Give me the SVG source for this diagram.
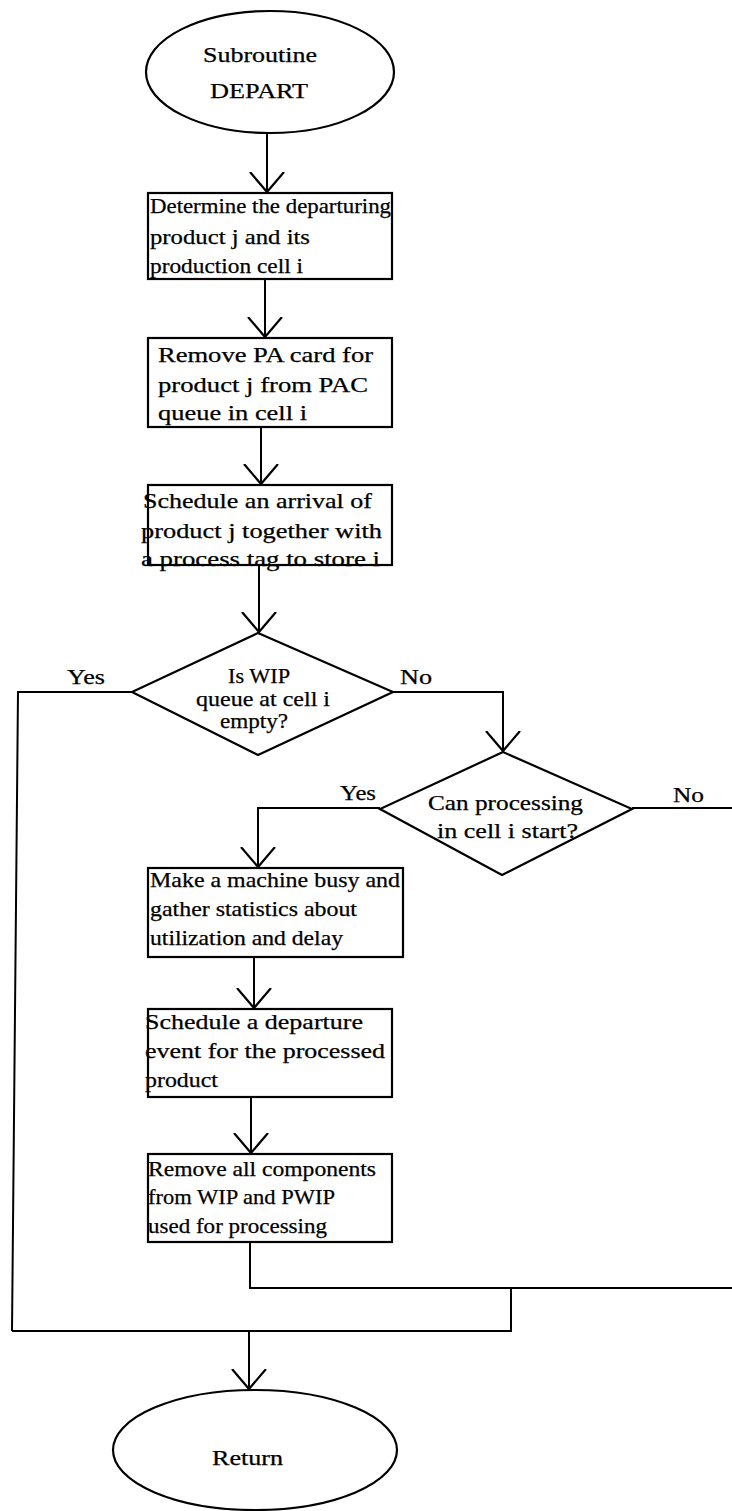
<svg xmlns="http://www.w3.org/2000/svg" width="732" height="1511" viewBox="0 0 732 1511">
  <defs>
    <marker id="arr" viewBox="-20 -20 40 40" markerWidth="40" markerHeight="40" refX="0" refY="0" orient="auto" markerUnits="userSpaceOnUse">
      <path d="M-20,-17 L0,0 L-20,17" fill="none" stroke="#000" stroke-width="2.2"/>
    </marker>
    <style>
      .shape { fill: #fff; stroke: #000; stroke-width: 2.2; }
      .line { fill: none; stroke: #000; stroke-width: 2; }
      text { font-family: "Liberation Serif", "Times New Roman", serif; font-size: 21px; fill: #000; stroke: #000; stroke-width: 0.25; }
    </style>
  </defs>

  <g id="connectors">
    <path class="line" d="M267,134 V192" marker-end="url(#arr)"/>
    <path class="line" d="M265,280 V337" marker-end="url(#arr)"/>
    <path class="line" d="M261,428 V484" marker-end="url(#arr)"/>
    <path class="line" d="M259,566 V632" marker-end="url(#arr)"/>
    <path class="line" d="M393,692 H503 V751" marker-end="url(#arr)"/>
    <path class="line" d="M132,692 H18 L12,1331"/>
    <path class="line" d="M380,808 H258 V867" marker-end="url(#arr)"/>
    <path class="line" d="M632,808 H732"/>
    <path class="line" d="M254,958 V1008" marker-end="url(#arr)"/>
    <path class="line" d="M251,1098 V1153" marker-end="url(#arr)"/>
    <path class="line" d="M250,1243 V1288 H732"/>
    <path class="line" d="M511,1288 V1331 H12"/>
    <path class="line" d="M249,1331 V1389" marker-end="url(#arr)"/>
  </g>

  <g id="start">
    <ellipse class="shape" cx="270" cy="72" rx="124" ry="61"/>
    <text x="203" y="62" textLength="114" lengthAdjust="spacingAndGlyphs">Subroutine</text>
    <text x="210" y="98" textLength="98" lengthAdjust="spacingAndGlyphs">DEPART</text>
  </g>

  <g id="determine">
    <rect class="shape" x="148" y="193" width="244" height="86"/>
    <text x="150" y="213" textLength="241" lengthAdjust="spacingAndGlyphs">Determine the departuring</text>
    <text x="150" y="244" textLength="160" lengthAdjust="spacingAndGlyphs">product j and its</text>
    <text x="150" y="273" textLength="153" lengthAdjust="spacingAndGlyphs">production cell i</text>
  </g>

  <g id="remove-pa">
    <rect class="shape" x="148" y="338" width="244" height="89"/>
    <text x="158" y="362" textLength="215" lengthAdjust="spacingAndGlyphs">Remove PA card for</text>
    <text x="158" y="392" textLength="210" lengthAdjust="spacingAndGlyphs">product j from PAC</text>
    <text x="158" y="420" textLength="149" lengthAdjust="spacingAndGlyphs">queue in cell i</text>
  </g>

  <g id="schedule-arrival">
    <rect class="shape" x="148" y="485" width="244" height="80"/>
    <text x="143" y="508" textLength="229" lengthAdjust="spacingAndGlyphs">Schedule an arrival of</text>
    <text x="141" y="538" textLength="241" lengthAdjust="spacingAndGlyphs">product j together with</text>
    <text x="141" y="566" textLength="239" lengthAdjust="spacingAndGlyphs">a process tag to store i</text>
  </g>

  <g id="wip-empty">
    <polygon class="shape" points="258,633 393,692 258,755 132,692"/>
    <text x="228" y="683" textLength="62" lengthAdjust="spacingAndGlyphs">Is WIP</text>
    <text x="196" y="706" textLength="134" lengthAdjust="spacingAndGlyphs">queue at cell i</text>
    <text x="220" y="728" textLength="68" lengthAdjust="spacingAndGlyphs">empty?</text>
    <text x="67" y="684" textLength="38" lengthAdjust="spacingAndGlyphs">Yes</text>
    <text x="400" y="684" textLength="32" lengthAdjust="spacingAndGlyphs">No</text>
  </g>

  <g id="can-process">
    <polygon class="shape" points="503,752 632,809 502,875 380,809"/>
    <text x="428" y="810" textLength="155" lengthAdjust="spacingAndGlyphs">Can processing</text>
    <text x="437" y="838" textLength="141" lengthAdjust="spacingAndGlyphs">in cell i start?</text>
    <text x="340" y="800" textLength="36" lengthAdjust="spacingAndGlyphs">Yes</text>
    <text x="673" y="802" textLength="31" lengthAdjust="spacingAndGlyphs">No</text>
  </g>

  <g id="machine-busy">
    <rect class="shape" x="148" y="868" width="255" height="89"/>
    <text x="150" y="887" textLength="250" lengthAdjust="spacingAndGlyphs">Make a machine busy and</text>
    <text x="150" y="916" textLength="207" lengthAdjust="spacingAndGlyphs">gather statistics about</text>
    <text x="150" y="945" textLength="193" lengthAdjust="spacingAndGlyphs">utilization and delay</text>
  </g>

  <g id="schedule-departure">
    <rect class="shape" x="148" y="1009" width="244" height="88"/>
    <text x="145" y="1029" textLength="218" lengthAdjust="spacingAndGlyphs">Schedule a departure</text>
    <text x="145" y="1058" textLength="240" lengthAdjust="spacingAndGlyphs">event for the processed</text>
    <text x="145" y="1087" textLength="73" lengthAdjust="spacingAndGlyphs">product</text>
  </g>

  <g id="remove-components">
    <rect class="shape" x="148" y="1154" width="244" height="88"/>
    <text x="148" y="1176" textLength="228" lengthAdjust="spacingAndGlyphs">Remove all components</text>
    <text x="148" y="1204" textLength="187" lengthAdjust="spacingAndGlyphs">from WIP and PWIP</text>
    <text x="148" y="1233" textLength="179" lengthAdjust="spacingAndGlyphs">used for processing</text>
  </g>

  <g id="return">
    <ellipse class="shape" cx="255" cy="1450" rx="142" ry="60"/>
    <text x="212" y="1465" textLength="71" lengthAdjust="spacingAndGlyphs">Return</text>
  </g>
</svg>
